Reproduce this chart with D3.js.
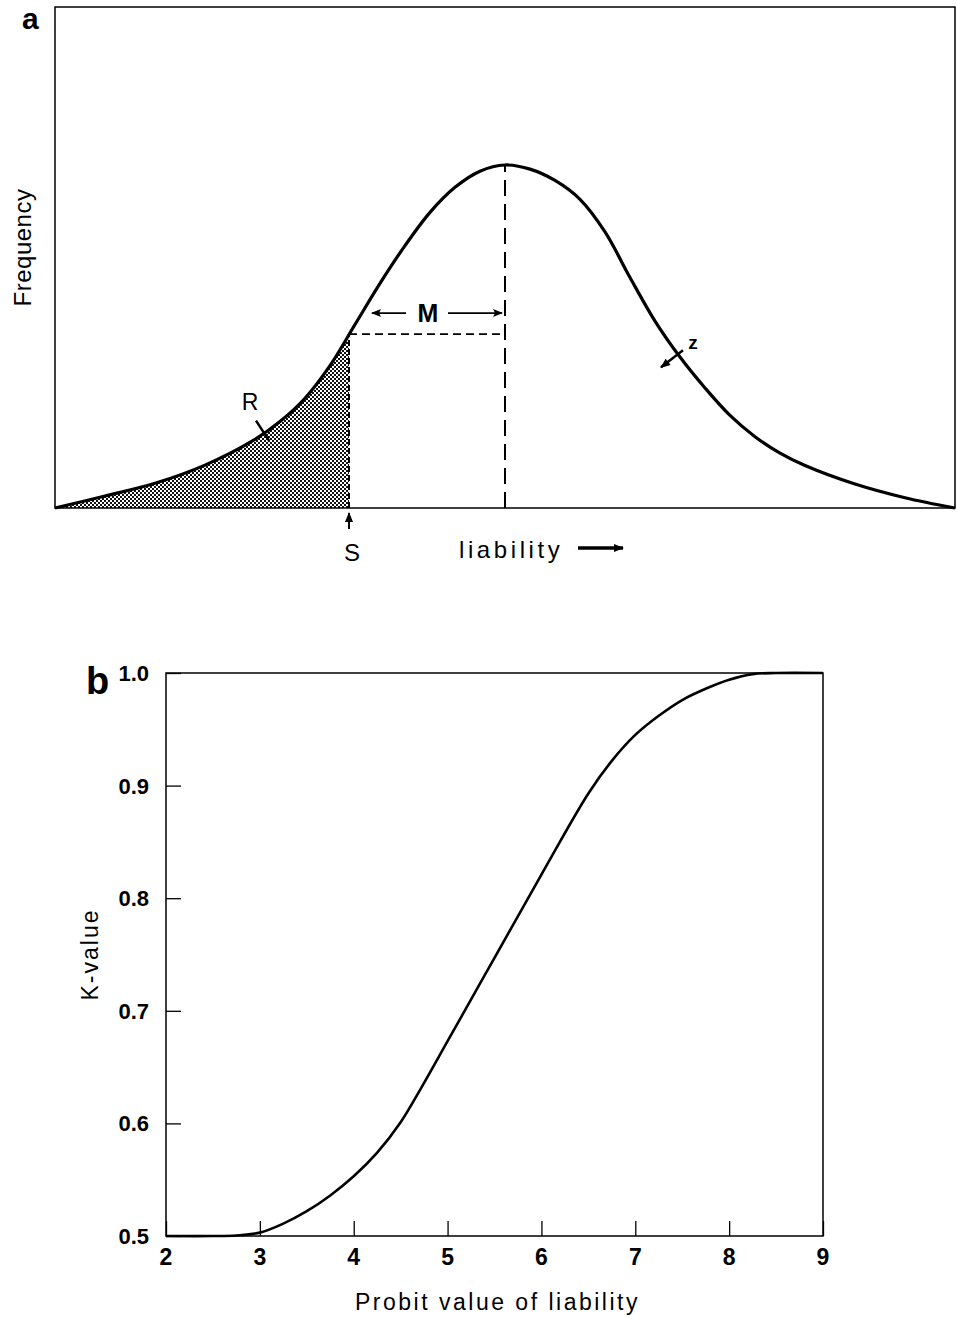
<!DOCTYPE html>
<html><head><meta charset="utf-8">
<script src="https://cdn.jsdelivr.net/npm/d3@7"></script>
<style>body{margin:0;background:#fff}svg{display:block}</style>
</head><body>
<svg id="c" width="957" height="1317"></svg>
<script>
// Panel a: liability (SD-like units) vs relative frequency
const liability = [-4.5,-4,-3.5,-3,-2.5,-2.25,-2,-1.75,-1.5,-1.25,-1,-0.75,-0.5,-0.25,0,
  0.25,0.5,0.75,1,1.25,1.5,1.75,2,2.25,2.5,2.75,3,3.5,4,4.5];
const frequency = [0,0.035,0.072,0.125,0.200,0.252,0.320,0.415,0.535,0.655,0.765,0.862,0.935,0.982,1,
  0.988,0.955,0.900,0.805,0.672,0.545,0.440,0.350,0.270,0.208,0.160,0.124,0.070,0.030,0];
const threshold = -1.56, thresholdFreq = 0.507, meanLiab = 0;
const rPoint = [-2.42, 0.217], zPoint = [1.73, 0.448];

// Panel b: probit value vs K-value
const probit = [2,2.5,2.75,3,3.25,3.5,3.75,4,4.25,4.5,4.75,5,5.5,6,6.5,6.75,7,7.25,7.5,7.75,8,8.25,8.5,9];
const kValue = [0.5,0.5,0.5005,0.503,0.511,0.522,0.536,0.553,0.574,0.601,0.636,0.673,0.747,0.821,0.893,0.922,0.945,0.962,0.976,0.986,0.994,0.999,1.0,1.0];
const xTicks = [2,3,4,5,6,7,8,9];
const yTicks = [0.5,0.6,0.7,0.8,0.9,1.0];

const svg = d3.select("#c");
const FONT = "'Liberation Sans', Arial, sans-serif";

// ---------- Panel a ----------
const A = {l:55, r:955, t:7, b:508};
const xa = d3.scaleLinear().domain([-4.5,4.5]).range([A.l, A.r]);
const ya = d3.scaleLinear().domain([0,1]).range([A.b, 165]);
const ga = svg.append("g");

const defs = svg.append("defs");
const pat = defs.append("pattern").attr("id","dots").attr("width",4).attr("height",4).attr("patternUnits","userSpaceOnUse");
pat.append("rect").attr("width",4).attr("height",4).attr("fill","#fff");
pat.append("rect").attr("width",2).attr("height",2).attr("fill","#111");
pat.append("rect").attr("x",2).attr("y",2).attr("width",2).attr("height",2).attr("fill","#111");

const pts = liability.map((x,i)=>[x,frequency[i]]);
const curveA = d3.curveCatmullRom.alpha(0.5);
const lineA = d3.line().x(d=>xa(d[0])).y(d=>ya(d[1])).curve(curveA);
const shadePts = pts.filter(d=>d[0]<threshold).concat([[threshold,thresholdFreq]]);
const areaA = d3.area().x(d=>xa(d[0])).y0(ya(0)).y1(d=>ya(d[1])).curve(curveA);
ga.append("path").attr("d",areaA(shadePts)).attr("fill","url(#dots)");

// frame
ga.append("rect").attr("x",A.l).attr("y",A.t).attr("width",A.r-A.l).attr("height",A.b-A.t)
  .attr("fill","none").attr("stroke","#000").attr("stroke-width",1.5);

// dashed lines
ga.append("line").attr("x1",xa(threshold)).attr("x2",xa(threshold)).attr("y1",ya(0)).attr("y2",ya(thresholdFreq))
  .attr("stroke","#000").attr("stroke-width",2).attr("stroke-dasharray","6,3");
ga.append("line").attr("x1",xa(threshold)).attr("x2",xa(meanLiab)).attr("y1",ya(thresholdFreq)).attr("y2",ya(thresholdFreq))
  .attr("stroke","#000").attr("stroke-width",1.6).attr("stroke-dasharray","8,5");
ga.append("line").attr("x1",xa(meanLiab)).attr("x2",xa(meanLiab)).attr("y1",ya(0)).attr("y2",ya(1))
  .attr("stroke","#000").attr("stroke-width",2).attr("stroke-dasharray","16,8");

ga.append("path").attr("d",lineA(pts)).attr("fill","none").attr("stroke","#000").attr("stroke-width",3.2);

// arrow markers
const mk = defs.append("marker").attr("id","ah").attr("viewBox","0 0 10 10").attr("refX",9).attr("refY",5)
  .attr("markerWidth",10).attr("markerHeight",10).attr("orient","auto").attr("markerUnits","userSpaceOnUse");
mk.append("path").attr("d","M0,1 L10,5 L0,9 L2,5 Z").attr("fill","#000");
const mk2 = defs.append("marker").attr("id","ahf").attr("viewBox","0 0 10 10").attr("refX",9).attr("refY",5)
  .attr("markerWidth",12).attr("markerHeight",10).attr("orient","auto").attr("markerUnits","userSpaceOnUse");
mk2.append("path").attr("d","M0,1 L10,5 L0,9 Z").attr("fill","#000");

// M arrow
const yM = ya(thresholdFreq) - 21;
const mX = 428;
ga.append("line").attr("x1",mX-22).attr("x2",xa(threshold)+23).attr("y1",yM).attr("y2",yM)
  .attr("stroke","#000").attr("stroke-width",1.8).attr("marker-end","url(#ah)");
ga.append("line").attr("x1",mX+20).attr("x2",xa(meanLiab)-3).attr("y1",yM).attr("y2",yM)
  .attr("stroke","#000").attr("stroke-width",1.8).attr("marker-end","url(#ah)");
ga.append("text").attr("x",mX).attr("y",yM+9).attr("text-anchor","middle").attr("font-family",FONT)
  .attr("font-weight","bold").attr("font-size",25).text("M");

// R label
const rx = xa(rPoint[0]), ry = ya(rPoint[1]);
ga.append("line").attr("x1",rx-7).attr("y1",ry-13).attr("x2",rx+6).attr("y2",ry+7).attr("stroke","#000").attr("stroke-width",2.5);
ga.append("text").attr("x",rx-13).attr("y",ry-24).attr("text-anchor","middle").attr("font-family",FONT)
  .attr("font-size",23).text("R");

// z label
const zx = xa(zPoint[0]), zy = ya(zPoint[1]);
ga.append("line").attr("x1",zx+5).attr("y1",zy-4).attr("x2",zx-17).attr("y2",zy+13)
  .attr("stroke","#000").attr("stroke-width",2.5).attr("marker-end","url(#ahf)");
ga.append("text").attr("x",zx+15).attr("y",zy-5).attr("text-anchor","middle").attr("font-family",FONT)
  .attr("font-weight","bold").attr("font-size",19).text("z");

// S arrow + label
const sx = xa(threshold);
ga.append("line").attr("x1",sx).attr("x2",sx).attr("y1",A.b+21).attr("y2",A.b+5).attr("stroke","#000").attr("stroke-width",2)
  .attr("marker-end","url(#ahf)");
ga.append("text").attr("x",sx+3).attr("y",A.b+53).attr("text-anchor","middle").attr("font-family",FONT)
  .attr("font-size",24).text("S");

// liability label + arrow
ga.append("text").attr("x",459).attr("y",A.b+50).attr("font-family",FONT).attr("font-size",24)
  .attr("letter-spacing",3.6).text("liability");
ga.append("line").attr("x1",578).attr("x2",623).attr("y1",A.b+40).attr("y2",A.b+40).attr("stroke","#000").attr("stroke-width",3.5)
  .attr("marker-end","url(#ahf)");

// Frequency label
ga.append("text").attr("transform",`translate(31,${(A.t+A.b)/2 - 10}) rotate(-90)`).attr("text-anchor","middle")
  .attr("font-family",FONT).attr("font-size",24).attr("letter-spacing",0.5).text("Frequency");

// panel letter
ga.append("text").attr("x",22).attr("y",29).attr("font-family",FONT).attr("font-weight","bold").attr("font-size",30).text("a");

// ---------- Panel b ----------
const B = {l:166, r:823, t:673, b:1236};
const xb = d3.scaleLinear().domain([2,9]).range([B.l,B.r]);
const yb = d3.scaleLinear().domain([0.5,1.0]).range([B.b,B.t]);
const gb = svg.append("g");

gb.append("rect").attr("x",B.l).attr("y",B.t).attr("width",B.r-B.l).attr("height",B.b-B.t)
  .attr("fill","none").attr("stroke","#000").attr("stroke-width",1.5);

const xAxis = gb.append("g").attr("transform",`translate(0,${B.b})`)
  .call(d3.axisTop(xb).tickValues(xTicks).tickSize(15).tickFormat(""));
const yAxis = gb.append("g").attr("transform",`translate(${B.l},0)`)
  .call(d3.axisRight(yb).tickValues(yTicks).tickSize(15).tickFormat(""));
[xAxis,yAxis].forEach(ax=>{ax.select(".domain").remove(); ax.selectAll("line").attr("stroke","#000").attr("stroke-width",1.3);});

gb.selectAll(".xl").data(xTicks).join("text").attr("x",d=>xb(d)).attr("y",B.b+29).attr("text-anchor","middle")
  .attr("font-family",FONT).attr("font-weight","bold").attr("font-size",23).text(d=>d);
gb.selectAll(".yl").data(yTicks).join("text").attr("x",B.l-17).attr("y",d=>yb(d)+8).attr("text-anchor","end")
  .attr("font-family",FONT).attr("font-weight","bold").attr("font-size",22).text(d=>d3.format(".1f")(d));

const lineB = d3.line().x((d,i)=>xb(probit[i])).y((d,i)=>yb(kValue[i])).curve(d3.curveCatmullRom.alpha(0.5));
gb.append("path").attr("d",lineB(probit)).attr("fill","none").attr("stroke","#000").attr("stroke-width",2.6);

gb.append("text").attr("x",(B.l+B.r)/2+3).attr("y",1310).attr("text-anchor","middle").attr("font-family",FONT)
  .attr("font-size",23).attr("letter-spacing",2.5).text("Probit value of liability");
gb.append("text").attr("transform",`translate(98,${(B.t+B.b)/2}) rotate(-90)`).attr("text-anchor","middle")
  .attr("font-family",FONT).attr("font-size",23).attr("letter-spacing",2).text("K-value");

gb.append("text").attr("x",86).attr("y",694).attr("font-family",FONT).attr("font-weight","bold").attr("font-size",38).text("b");
</script>
</body></html>
